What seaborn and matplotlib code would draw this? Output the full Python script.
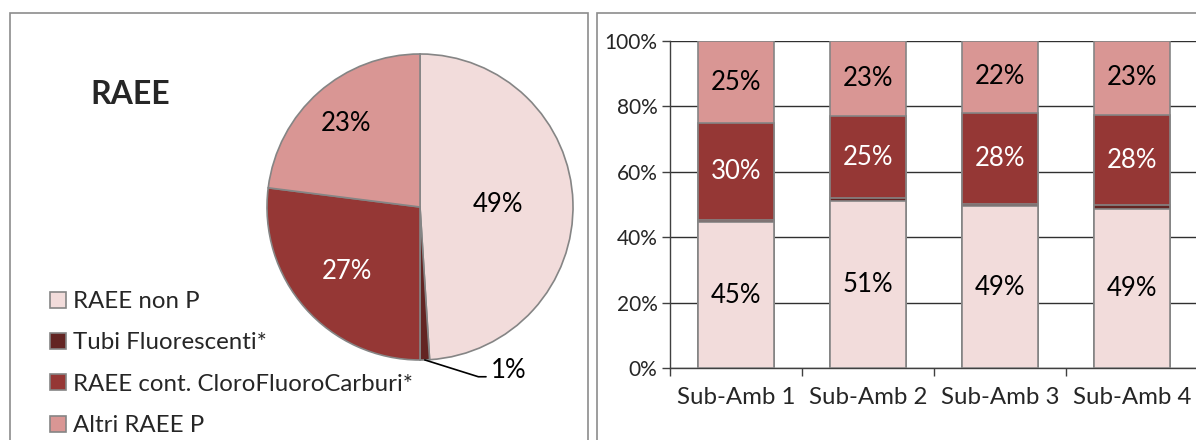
import matplotlib.pyplot as plt
import matplotlib.patches as mpatches
import numpy as np
import pandas as pd
import seaborn as sns

# Data
serie = ['RAEE non P', 'Tubi Fluorescenti*', 'RAEE cont. CloroFluoroCarburi*', 'Altri RAEE P']
colori = ['#F2DCDB', '#632523', '#953735', '#D99694']
testo_col = ['black', 'white', 'white', 'black']

torta = [49, 1, 27, 23]

zone = ['Sub-Amb 1', 'Sub-Amb 2', 'Sub-Amb 3', 'Sub-Amb 4']
non_p = [44.6, 51.2, 49.4, 48.7]
tubi = [0.7, 0.8, 0.8, 1.1]
cfc = [29.6, 25.0, 27.8, 27.6]
altri = [25.1, 23.0, 22.0, 22.6]

sns.set_theme(style='white')
plt.rcParams['font.family'] = ['Lato', 'DejaVu Sans']
EDGE = '#858585'

fig = plt.figure(figsize=(11.96, 4.4), dpi=100)

# panel frames
fig.patches.append(mpatches.Rectangle((9.5 / 1196, -0.1), 578 / 1196, 1.1 - 13 / 440,
                                      transform=fig.transFigure, fill=False,
                                      edgecolor='#8c8c8c', linewidth=1.2))
fig.patches.append(mpatches.Rectangle((597 / 1196, -0.1), 0.6, 1.1 - 13 / 440,
                                      transform=fig.transFigure, fill=False,
                                      edgecolor='#8c8c8c', linewidth=1.2))

# ---- pie ----
axp = fig.add_axes([(420 - 153) / 1196, (440 - 207 - 153) / 440, 306 / 1196, 306 / 440])
wedges, _ = axp.pie(torta, colors=colori, startangle=90, counterclock=False,
                    wedgeprops=dict(edgecolor=EDGE, linewidth=1.2))
axp.set_xlim(-1, 1)
axp.set_ylim(-1, 1)
axp.set_aspect('equal')

raggi = [0.51, None, 0.64, 0.73]
for w, v, r, tc in zip(wedges, torta, raggi, testo_col):
    ang = np.deg2rad((w.theta1 + w.theta2) / 2)
    if r is None:
        # leader line for the tiny slice
        x0, y0 = np.cos(ang), np.sin(ang)
        axp.plot([x0, x0 + 0.35, x0 + 0.4], [y0, y0 - 0.11, y0 - 0.11],
                 color='black', linewidth=1.2, clip_on=False)
        axp.text(x0 + 0.43, y0 - 0.07, f'{v}%', ha='left', va='center',
                 fontsize=18.5, color='black')
        continue
    axp.text(r * np.cos(ang), r * np.sin(ang), f'{v}%', ha='center', va='center',
             fontsize=18.5, color=tc)

fig.text(130 / 1196, 1 - 95 / 440, 'RAEE', ha='center', va='center',
         fontsize=23, fontweight='bold')

fig.legend(wedges, serie, loc='upper left', bbox_to_anchor=(50 / 1196, 1 - 291 / 440),
           frameon=False, fontsize=17.3, handlelength=0.65, handleheight=0.65,
           handletextpad=0.3, labelspacing=0.85, borderpad=0, borderaxespad=0)

# ---- stacked bars ----
axb = fig.add_axes([670 / 1196, 1 - 368 / 440, 528 / 1196, (368 - 41) / 440])
df = pd.DataFrame({'zona': zone, 'RAEE non P': non_p, 'Tubi Fluorescenti*': tubi,
                   'RAEE cont. CloroFluoroCarburi*': cfc, 'Altri RAEE P': altri})
cum = df[serie].cumsum(axis=1)

for s, c in reversed(list(zip(serie, colori))):
    sns.barplot(x=df['zona'], y=cum[s], color=c, saturation=1, width=0.57,
                edgecolor=EDGE, linewidth=1.2, errorbar=None, ax=axb, zorder=3)

for i, z in enumerate(zone):
    for s, tc in zip(serie, testo_col):
        if s == 'Tubi Fluorescenti*':
            continue
        v = df.loc[i, s]
        axb.text(i, cum.loc[i, s] - v / 2, f'{round(v)}%', ha='center', va='center',
                 fontsize=18.5, color=tc, zorder=5)

axb.set_ylim(0, 100)
axb.set_xlim(-0.5, 3.5)
axb.set_yticks([0, 20, 40, 60, 80, 100])
axb.set_yticklabels([f'{t}%' for t in [0, 20, 40, 60, 80, 100]], fontsize=15)
axb.set_xticks([-0.5, 0.5, 1.5, 2.5, 3.5])
axb.set_xticklabels([])
axb.set_xticks(range(4), minor=True)
axb.set_xticklabels(zone, minor=True, fontsize=17.3)
axb.tick_params(axis='x', which='major', length=6, width=1, color='#404040', direction='out',
                bottom=True)
axb.tick_params(axis='x', which='minor', length=0, pad=14)
axb.tick_params(axis='y', length=6, width=1, color='#404040', direction='out', left=True, pad=3)
axb.yaxis.grid(True, color='#303030', linewidth=1, zorder=0)
axb.set_axisbelow(True)
for sp in ['top', 'right']:
    axb.spines[sp].set_visible(False)
for sp in ['left', 'bottom']:
    axb.spines[sp].set_color('#404040')
    axb.spines[sp].set_linewidth(1)
axb.set_xlabel('')
axb.set_ylabel('')

fig.savefig('out.png', dpi=100, facecolor='white')
